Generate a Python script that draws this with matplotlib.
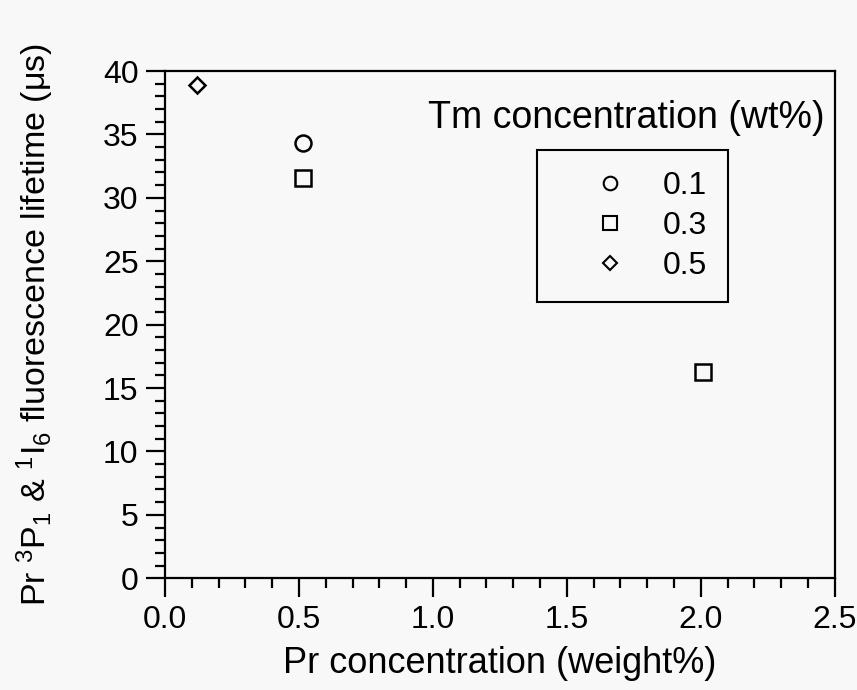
import matplotlib
matplotlib.use("Agg")
import matplotlib.pyplot as plt
from matplotlib.ticker import MultipleLocator, FormatStrFormatter
from matplotlib.lines import Line2D

plt.rcParams['font.family'] = ['Liberation Sans', 'DejaVu Sans']
plt.rcParams['mathtext.fontset'] = 'custom'
plt.rcParams['mathtext.rm'] = 'Liberation Sans'
plt.rcParams['mathtext.it'] = 'Liberation Sans:italic'

# Data (Pr concentration wt%, lifetime us) per Tm concentration
series_labels = ['0.1', '0.3', '0.5']
series_markers = ['o', 's', 'D']
x_01 = [0.515]
y_01 = [34.3]
x_03 = [0.515, 2.01]
y_03 = [31.6, 16.3]
x_05 = [0.12]
y_05 = [38.9]

bg = '#f7f8f7'
fig = plt.figure(figsize=(8.57, 6.90), dpi=100, facecolor=bg)
ax = fig.add_axes([0.1925, 0.162, 0.7815, 0.735], facecolor=bg)

ms_data = {'o': 11.5, 's': 11.5, 'D': 8.5}
for xs, ys, m in zip([x_01, x_03, x_05], [y_01, y_03, y_05], series_markers):
    ax.plot(xs, ys, linestyle='none', marker=m, markersize=ms_data[m],
            markerfacecolor='none', markeredgecolor='black', markeredgewidth=1.8)

ax.set_xlim(0, 2.5)
ax.set_ylim(0, 40)
ax.xaxis.set_major_locator(MultipleLocator(0.5))
ax.xaxis.set_minor_locator(MultipleLocator(0.1))
ax.yaxis.set_major_locator(MultipleLocator(5))
ax.yaxis.set_minor_locator(MultipleLocator(1))
ax.xaxis.set_major_formatter(FormatStrFormatter('%.1f'))
ax.tick_params(which='both', direction='out', width=1.6, labelsize=23, top=False, right=False)
ax.tick_params(which='major', length=14, pad=5)
ax.tick_params(which='minor', length=7)
for s in ax.spines.values():
    s.set_linewidth(1.6)

ax.set_xlabel('Pr concentration (weight%)', fontsize=26, labelpad=8)
ax.set_ylabel(r'Pr $^{3}$P$_{1}$ & $^{1}$I$_{6}$ fluorescence lifetime (μs)',
              fontsize=24.5, labelpad=34)

# Legend title and box
ax.text(0.985, 0.8876, 'Tm concentration (wt%)', transform=ax.transAxes,
        ha='right', va='baseline', fontsize=27)
handles = [Line2D([], [], linestyle='none', marker=m, markersize=ms_data[m] * 0.85,
                  markerfacecolor='none', markeredgecolor='black', markeredgewidth=1.5)
           for m in series_markers]
leg = ax.legend(handles, series_labels, loc='upper left', bbox_to_anchor=(0.555, 0.844),
                frameon=True, fancybox=False, edgecolor='black', facecolor=bg,
                fontsize=23, handletextpad=0.0, borderpad=0.65, labelspacing=0.31,
                borderaxespad=0, handlelength=3.3, framealpha=1)
leg.get_frame().set_linewidth(1.5)

fig.savefig('out.png', dpi=100, facecolor=bg)
